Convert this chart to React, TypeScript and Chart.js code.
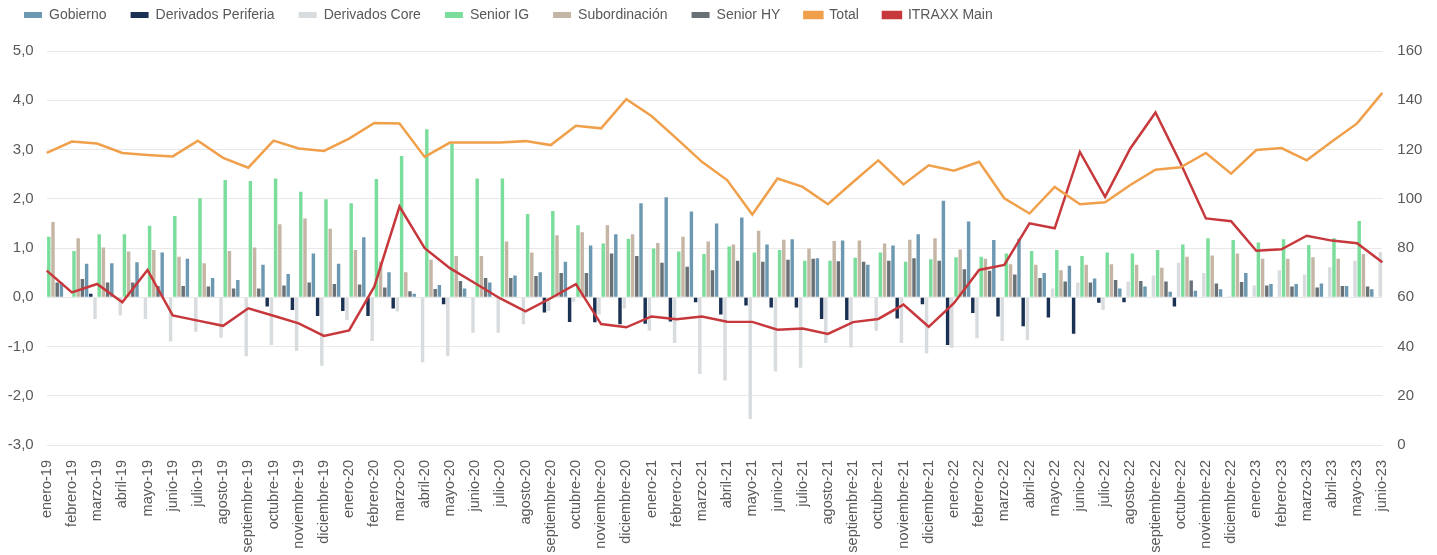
import React, { useEffect, useRef } from 'react';
import { Chart, registerables } from 'chart.js';

Chart.register(...registerables);

const months = [
  'enero-19', 'febrero-19', 'marzo-19', 'abril-19', 'mayo-19', 'junio-19', 'julio-19', 'agosto-19', 'septiembre-19', 'octubre-19', 'noviembre-19', 'diciembre-19',
  'enero-20', 'febrero-20', 'marzo-20', 'abril-20', 'mayo-20', 'junio-20', 'julio-20', 'agosto-20', 'septiembre-20', 'octubre-20', 'noviembre-20', 'diciembre-20',
  'enero-21', 'febrero-21', 'marzo-21', 'abril-21', 'mayo-21', 'junio-21', 'julio-21', 'agosto-21', 'septiembre-21', 'octubre-21', 'noviembre-21', 'diciembre-21',
  'enero-22', 'febrero-22', 'marzo-22', 'abril-22', 'mayo-22', 'junio-22', 'julio-22', 'agosto-22', 'septiembre-22', 'octubre-22', 'noviembre-22', 'diciembre-22',
  'enero-23', 'febrero-23', 'marzo-23', 'abril-23', 'mayo-23', 'junio-23',
];

const gobierno = [
  0.30, 0.30, 0.68, 0.69, 0.71, 0.91, 0.78, 0.39, 0.35, 0.66, 0.47, 0.89,
  0.68, 1.22, 0.51, 0.07, 0.25, 0.18, 0.30, 0.44, 0.51, 0.72, 1.05, 1.28,
  1.91, 2.03, 1.74, 1.50, 1.62, 1.07, 1.18, 0.79, 1.15, 0.66, 1.05, 1.28,
  1.96, 1.54, 1.16, 1.19, 0.49, 0.64, 0.38, 0.18, 0.22, 0.11, 0.13, 0.16,
  0.49, 0.27, 0.27, 0.28, 0.23, 0.16,
];

const derivadosPeriferia = [
  0, 0, 0.07, 0, 0, 0, 0, 0, 0, -0.19, -0.26, -0.38,
  -0.28, -0.38, -0.23, 0, -0.14, 0, 0, 0, -0.31, -0.50, -0.51, -0.55,
  -0.54, -0.49, -0.10, -0.35, -0.17, -0.21, -0.21, -0.44, -0.46, 0, -0.43, -0.14,
  -0.97, -0.32, -0.39, -0.59, -0.41, -0.74, -0.11, -0.10, 0, -0.19, 0, 0,
  0, 0, 0, 0, 0, 0,
];

const derivadosCore = [
  -0.10, 0, -0.44, -0.37, -0.44, -0.90, -0.70, -0.82, -1.20, -0.97, -1.09, -1.39,
  -0.46, -0.89, -0.29, -1.32, -1.20, -0.72, -0.72, -0.55, -0.28, -0.09, -0.35, -0.23,
  -0.68, -0.93, -1.56, -1.69, -2.47, -1.51, -1.43, -0.93, -1.02, -0.68, -0.93, -1.14,
  -1.03, -0.83, -0.89, -0.87, 0.18, 0.30, -0.26, 0.32, 0.44, 0.70, 0.49, 0.02,
  0.24, 0.55, 0.46, 0.61, 0.74, 0.92,
];

const seniorIG = [
  1.23, 0.94, 1.28, 1.28, 1.45, 1.65, 2.01, 2.38, 2.36, 2.41, 2.14, 1.99,
  1.91, 2.40, 2.87, 3.41, 3.12, 2.41, 2.41, 1.69, 1.75, 1.46, 1.09, 1.19,
  0.99, 0.93, 0.88, 1.03, 0.91, 0.96, 0.74, 0.74, 0.80, 0.91, 0.72, 0.77,
  0.81, 0.82, 0.89, 0.94, 0.96, 0.84, 0.91, 0.89, 0.96, 1.07, 1.20, 1.16,
  1.11, 1.18, 1.06, 1.20, 1.55, 0.90,
];

const subordinacion = [
  1.53, 1.20, 1.01, 0.93, 0.96, 0.82, 0.69, 0.94, 1.01, 1.48, 1.60, 1.39,
  0.96, 0.72, 0.51, 0.76, 0.84, 0.84, 1.13, 0.91, 1.26, 1.32, 1.46, 1.28,
  1.10, 1.23, 1.13, 1.07, 1.35, 1.17, 0.99, 1.14, 1.15, 1.09, 1.17, 1.20,
  0.97, 0.78, 0.67, 0.66, 0.55, 0.66, 0.67, 0.66, 0.60, 0.82, 0.85, 0.89,
  0.78, 0.78, 0.81, 0.78, 0.88, 0.80,
];

const seniorHY = [
  0.30, 0.37, 0.30, 0.30, 0.23, 0.23, 0.22, 0.18, 0.18, 0.24, 0.30, 0.27,
  0.26, 0.20, 0.12, 0.17, 0.33, 0.39, 0.39, 0.43, 0.49, 0.49, 0.89, 0.84,
  0.70, 0.62, 0.55, 0.74, 0.72, 0.76, 0.78, 0.73, 0.72, 0.74, 0.79, 0.74,
  0.57, 0.54, 0.46, 0.39, 0.32, 0.30, 0.35, 0.33, 0.32, 0.34, 0.28, 0.31,
  0.24, 0.22, 0.20, 0.23, 0.22, 0.20,
];

const total = [
  2.93, 3.16, 3.12, 2.93, 2.89, 2.86, 3.18, 2.83, 2.63, 3.18, 3.02, 2.97,
  3.22, 3.54, 3.53, 2.85, 3.14, 3.14, 3.14, 3.17, 3.09, 3.48, 3.43, 4.02,
  3.68, 3.22, 2.75, 2.38, 1.68, 2.41, 2.24, 1.89, 2.34, 2.78, 2.29, 2.68,
  2.57, 2.75, 2.01, 1.70, 2.24, 1.89, 1.93, 2.28, 2.59, 2.64, 2.93, 2.51,
  2.99, 3.03, 2.78, 3.16, 3.53, 4.15,
];

const itraxxMain = [
  70.8, 62.0, 65.4, 58.0, 71.1, 52.6, 50.5, 48.4, 55.5, 52.5, 49.4, 44.3,
  46.5, 64.3, 96.8, 79.9, 71.8, 65.7, 59.5, 54.3, 59.6, 65.3, 49.1, 47.8,
  52.2, 51.1, 52.2, 50.1, 50.0, 46.8, 47.3, 45.1, 49.9, 51.2, 57.0, 48.0,
  57.6, 71.1, 73.1, 90.0, 88.0, 119.0, 100.8, 120.4, 135.0, 114.3, 92.0, 90.9,
  78.9, 79.5, 85.0, 83.0, 81.9, 74.2,
];

const leftTicks = { min: -3, max: 5, step: 1 };
const rightTicks = { min: 0, max: 160, step: 20 };

const legendShift = {
  id: 'legendShift',
  afterLayout(chart: any) {
    const lg = chart.legend;
    if (lg) {
      lg.top -= 19;
      lg.bottom -= 19;
    }
  },
};

export default function App() {
  const ref = useRef<HTMLCanvasElement>(null);

  useEffect(() => {
    const canvas = ref.current;
    if (!canvas) return;
    Chart.defaults.font.family = "'Liberation Sans', Arial, sans-serif";
    Chart.defaults.color = '#595959';

    const barCommon = {
      type: 'bar' as const,
      yAxisID: 'y',
      order: 1,
      categoryPercentage: 1,
      barPercentage: 0.82,
      borderWidth: 0,
      clip: 0,
    };

    const chart = new Chart(canvas, {
      data: {
        labels: months,
        datasets: [
          { ...barCommon, label: 'Gobierno', data: gobierno, backgroundColor: '#6C99B1' },
          { ...barCommon, label: 'Derivados Periferia', data: derivadosPeriferia, backgroundColor: '#1A3154' },
          { ...barCommon, label: 'Derivados Core', data: derivadosCore, backgroundColor: '#D9DCDE' },
          { ...barCommon, label: 'Senior IG', data: seniorIG, backgroundColor: '#7ADD9C' },
          { ...barCommon, label: 'Subordinación', data: subordinacion, backgroundColor: '#C5B5A4' },
          { ...barCommon, label: 'Senior HY', data: seniorHY, backgroundColor: '#687176' },
          {
            type: 'line' as const,
            label: 'Total',
            data: total,
            yAxisID: 'y',
            order: 0,
            borderColor: '#F0A04B',
            backgroundColor: '#F0A04B',
            borderWidth: 2.5,
            pointRadius: 0,
            tension: 0,
          },
          {
            type: 'line' as const,
            label: 'ITRAXX Main',
            data: itraxxMain,
            yAxisID: 'y1',
            order: 0,
            borderColor: '#C7383C',
            backgroundColor: '#C7383C',
            borderWidth: 2.5,
            pointRadius: 0,
            tension: 0,
          },
        ],
      },
      options: {
        responsive: false,
        animation: false,
        devicePixelRatio: 1,
        layout: { padding: { top: 3, left: 0, right: 0, bottom: 0 } },
        plugins: {
          tooltip: { enabled: false },
          legend: {
            display: true,
            position: 'top',
            align: 'start',
            labels: {
              boxWidth: 18,
              boxHeight: 6,
              padding: 24,
              color: '#595959',
              font: { size: 14 },
              sort: (a: any, b: any) => a.datasetIndex - b.datasetIndex,
            },
          },
        },
        scales: {
          x: {
            type: 'category',
            offset: false,
            grid: { display: false },
            border: { display: false },
            ticks: {
              autoSkip: false,
              maxRotation: 90,
              minRotation: 90,
              padding: 7,
              color: '#595959',
              font: { size: 14.5 },
            },
            afterFit: (s: any) => {
              s.height = 110;
            },
          },
          y: {
            type: 'linear',
            position: 'left',
            min: leftTicks.min,
            max: leftTicks.max,
            grid: { color: '#E8E8E8', lineWidth: 1, drawTicks: false },
            border: { display: false },
            ticks: {
              stepSize: leftTicks.step,
              padding: 13,
              color: '#595959',
              font: { size: 15 },
              callback: (v: any) => Number(v).toFixed(1).replace('.', ','),
            },
            afterFit: (s: any) => {
              s.width = 46.7;
            },
          },
          y1: {
            type: 'linear',
            position: 'right',
            min: rightTicks.min,
            max: rightTicks.max,
            grid: { drawOnChartArea: false, drawTicks: false },
            border: { display: false },
            ticks: {
              stepSize: rightTicks.step,
              padding: 15,
              color: '#595959',
              font: { size: 15 },
            },
            afterFit: (s: any) => {
              s.width = 54.7;
            },
          },
        },
      },
      plugins: [legendShift],
    } as any);

    return () => chart.destroy();
  }, []);

  return (
    <div style={{ position: 'fixed', left: 0, top: 0, width: 1437, height: 555, background: '#ffffff' }}>
      <canvas ref={ref} width={1437} height={555} style={{ width: 1437, height: 555, display: 'block' }} />
    </div>
  );
}
